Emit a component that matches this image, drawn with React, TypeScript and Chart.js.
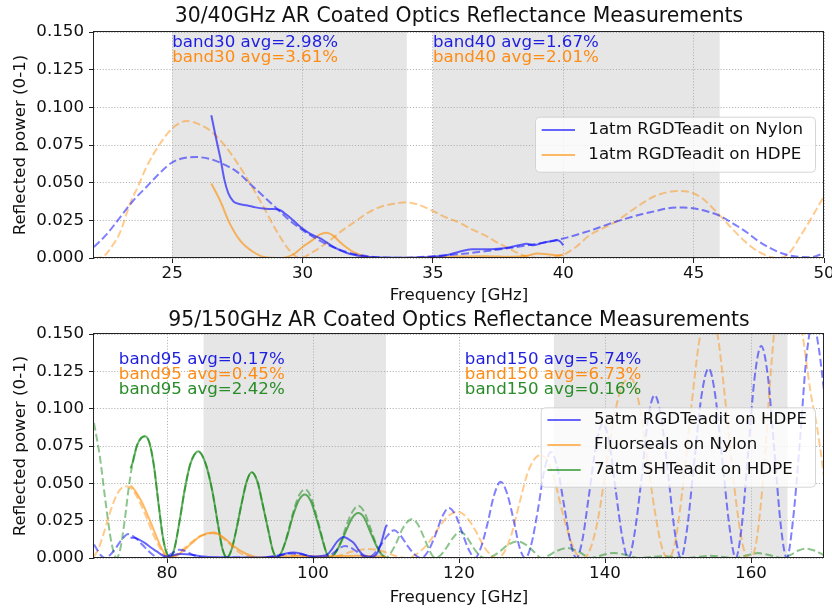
import React, { useEffect, useRef } from 'react';
import { Chart, registerables } from 'chart.js';

Chart.register(...registerables);

type P = [number, number][];

// ---------------- shared ----------------
const yTicks = [0, 0.025, 0.05, 0.075, 0.1, 0.125, 0.15];

// ---------------- top panel (30/40 GHz) ----------------
const topTitle = '30/40GHz AR Coated Optics Reflectance Measurements';
const topXTicks = [25, 30, 35, 40, 45, 50];
const topBands: [number, number][] = [[25, 34], [35, 46]];
const topLegendLabels = ['1atm RGDTeadit on Nylon', '1atm RGDTeadit on HDPE'];
const topNotes = ['band30 avg=2.98%', 'band30 avg=3.61%', 'band40 avg=1.67%', 'band40 avg=2.01%'];
const topNotePos: P = [[25, 0.14], [25, 0.13], [35, 0.14], [35, 0.13]];

const topNylonMeas: P = [
  [26.5, 0.0947], [26.7, 0.078], [26.85, 0.066], [27.0, 0.052], [27.15, 0.043], [27.35, 0.0375],
  [27.6, 0.0357], [27.85, 0.035], [28.2, 0.0336], [28.5, 0.0328], [28.8, 0.0325], [29.1, 0.032],
  [29.4, 0.0285], [29.7, 0.024], [30.0, 0.0195], [30.3, 0.016], [30.7, 0.0128], [31.2, 0.0072],
  [31.7, 0.0033], [32.3, 0.0011], [33.0, 0.0003], [34.0, 0.0002], [35.0, 0.0008], [35.6, 0.0022],
  [36.2, 0.005], [36.5, 0.0058], [36.9, 0.0058], [37.5, 0.0062], [37.95, 0.0072], [38.3, 0.0085],
  [38.6, 0.0095], [38.85, 0.0084], [39.1, 0.0095], [39.35, 0.0106], [39.6, 0.0112], [39.75, 0.0117],
  [39.88, 0.011], [40.0, 0.0084],
];
const topNylonModel: P = [
  [22, 0.0073], [22.5, 0.016], [23, 0.027], [23.5, 0.038], [24, 0.047], [24.5, 0.056], [25, 0.0635],
  [25.5, 0.0665], [25.9, 0.067], [26.5, 0.0655], [27, 0.062], [27.5, 0.057], [28, 0.049], [28.5, 0.041],
  [29, 0.033], [29.5, 0.025], [30, 0.0185], [30.5, 0.013], [31, 0.0085], [31.5, 0.005], [32, 0.0025],
  [32.5, 0.0012], [33, 0.0004], [34, 0.0002], [35, 0.0012], [36, 0.0025], [37, 0.0045], [38, 0.0068],
  [39, 0.0095], [40, 0.013], [41, 0.018], [42, 0.024], [43, 0.029], [43.5, 0.031], [44, 0.033],
  [44.6, 0.0335], [45, 0.033], [45.5, 0.031], [46, 0.028], [46.5, 0.023], [47, 0.0175], [47.5, 0.011],
  [48, 0.006], [48.5, 0.0025], [49, 0.0008], [49.5, 0.0005], [50, 0.0033],
];
const topHdpeMeas: P = [
  [26.5, 0.0494], [26.83, 0.0383], [27.21, 0.0228], [27.6, 0.0117], [28.11, 0.004], [28.62, 0.0003],
  [29.0, 0.0], [29.39, 0.0006], [29.7, 0.003], [30.0, 0.0073], [30.35, 0.0115], [30.67, 0.0157],
  [30.92, 0.0168], [31.2, 0.0145], [31.43, 0.0106], [31.7, 0.0068], [31.94, 0.004], [32.5, 0.0005],
  [33.0, 0.0], [35.0, 0.0005], [36.0, 0.001], [37.0, 0.0012], [38.0, 0.0008], [38.6, 0.0015],
  [39.0, 0.003], [39.4, 0.0025], [39.8, 0.0018], [40.0, 0.0022],
];
const topHdpeModel: P = [
  [22, 0.0], [22.3, 0.0005], [22.7, 0.008], [23, 0.017], [23.38, 0.036], [23.7, 0.048], [24, 0.06],
  [24.5, 0.075], [25, 0.086], [25.55, 0.091], [26, 0.089], [26.5, 0.084], [27, 0.075], [27.5, 0.063],
  [28, 0.049], [28.5, 0.034], [29, 0.018], [29.5, 0.005], [29.9, 0.0], [30.4, 0.004], [31, 0.011],
  [31.5, 0.018], [32, 0.024], [32.5, 0.03], [33, 0.034], [33.5, 0.036], [34, 0.037], [34.5, 0.035],
  [35, 0.0312], [35.5, 0.027], [36, 0.0235], [36.5, 0.019], [37, 0.015], [37.5, 0.01], [38, 0.0055],
  [38.5, 0.0015], [39, 0.0], [39.5, 0.0005], [40, 0.0022], [40.5, 0.0075], [41, 0.015], [41.5, 0.0195],
  [42, 0.024], [42.5, 0.03], [43, 0.036], [43.5, 0.041], [44, 0.0437], [44.35, 0.0445], [44.8, 0.044],
  [45.3, 0.04], [46, 0.0283], [46.5, 0.019], [47, 0.0105], [47.5, 0.004], [48, 0.0005], [48.3, 0.0],
  [48.7, 0.004], [49.07, 0.0139], [49.5, 0.026], [50, 0.041],
];

// ---------------- bottom panel (95/150 GHz) ----------------
const botTitle = '95/150GHz AR Coated Optics Reflectance Measurements';
const botXTicks = [80, 100, 120, 140, 160];
const botBands: [number, number][] = [[85, 110], [133, 165]];
const botLegendLabels = ['5atm RGDTeadit on HDPE', 'Fluorseals on Nylon', '7atm SHTeadit on HDPE'];
const botNotes = [
  'band95 avg=0.17%', 'band95 avg=0.45%', 'band95 avg=2.42%',
  'band150 avg=5.74%', 'band150 avg=6.73%', 'band150 avg=0.16%',
];
const botNotePos: P = [[73.4, 0.13], [73.4, 0.12], [73.4, 0.11], [120.8, 0.13], [120.8, 0.12], [120.8, 0.11]];

const botRgdMeas: P = [
  [75.0, 0.0135], [75.5, 0.0136], [76.3, 0.012], [77.0, 0.01], [77.8, 0.007], [78.6, 0.0044], [79.3, 0.002],
  [80.0, 0.001], [80.8, 0.0018], [81.8, 0.0027], [82.7, 0.0025], [83.6, 0.002], [85.0, 0.001], [87.0, 0.0005],
  [90.0, 0.0003], [93.0, 0.0004], [95.0, 0.001], [96.3, 0.003], [97.3, 0.0037], [98.3, 0.003], [99.3, 0.0015],
  [100.0, 0.001], [101.0, 0.0013], [101.9, 0.002], [102.6, 0.006], [103.3, 0.011], [104.2, 0.0141],
  [104.9, 0.0125], [105.6, 0.01], [106.3, 0.005], [106.9, 0.002], [107.5, 0.001], [108.1, 0.0005],
  [108.8, 0.0033], [109.4, 0.011], [110.0, 0.0212], [110.2, 0.022],
];
const botRgdModel: P = [
  [70, 0.009], [70.5, 0.005], [71.0, 0.0015], [71.5, 0.0], [72.2, 0.002], [72.9, 0.006], [73.6, 0.011],
  [74.7, 0.016], [75.8, 0.013], [76.7, 0.0085], [77.6, 0.004], [78.4, 0.001], [79.2, 0.0], [80.0, 0.0012],
  [80.8, 0.0035], [81.7, 0.0055], [82.6, 0.0045], [83.5, 0.0022], [84.5, 0.0005], [85.8, 0.0], [87.5, 0.0002],
  [89.3, 0.0004], [91, 0.0001], [92.5, 0.0], [94, 0.0008], [95.5, 0.002], [97, 0.003], [98.5, 0.0025],
  [99.8, 0.001], [101.2, 0.0], [102.3, 0.0015], [103.3, 0.0055], [104.4, 0.008], [105.5, 0.006],
  [106.5, 0.0025], [107.4, 0.0], [108.2, 0.002], [109.2, 0.008], [110.2, 0.015], [111.1, 0.0185],
  [112.0, 0.015], [112.9, 0.0085], [113.9, 0.0025], [114.8, 0.0], [115.7, 0.004], [116.7, 0.0145],
  [117.6, 0.0265], [118.6, 0.0335], [119.6, 0.028], [120.5, 0.016], [121.4, 0.005], [122.2, 0.0],
  [123.0, 0.007], [123.9, 0.023], [124.8, 0.042], [125.7, 0.051], [126.6, 0.043], [127.5, 0.025],
  [128.3, 0.007], [129.1, 0.0], [129.9, 0.009], [130.8, 0.032], [131.7, 0.059], [132.6, 0.071],
  [133.5, 0.06], [134.4, 0.035], [135.3, 0.01], [136.1, 0.0], [136.9, 0.012], [137.8, 0.042],
  [138.8, 0.076], [139.7, 0.09], [140.6, 0.077], [141.5, 0.044], [142.4, 0.013], [143.2, 0.0],
  [144.0, 0.015], [145.0, 0.053], [145.9, 0.093], [146.8, 0.109], [147.7, 0.094], [148.7, 0.054],
  [149.6, 0.016], [150.4, 0.0], [151.2, 0.018], [152.2, 0.063], [153.2, 0.108], [154.2, 0.127],
  [155.1, 0.109], [156.1, 0.064], [157.1, 0.019], [157.9, 0.0], [158.7, 0.02], [159.6, 0.07],
  [160.5, 0.121], [161.4, 0.142], [162.3, 0.122], [163.2, 0.072], [164.1, 0.021], [164.9, 0.0],
  [165.7, 0.023], [166.7, 0.078], [167.6, 0.135], [168.5, 0.158], [169.3, 0.14], [170, 0.112],
];
const botFluorMeas: P = [
  [75.0, 0.0485], [75.5, 0.046], [76.5, 0.038], [77.5, 0.027], [78.5, 0.015], [79.3, 0.006], [80.2, 0.0008],
  [81.0, 0.001], [82.0, 0.004], [83.3, 0.0095], [84.7, 0.015], [86.4, 0.0171], [87.8, 0.0135], [89.1, 0.008],
  [90.9, 0.0027], [92.5, 0.0005], [95.0, 0.0003], [98.0, 0.0015], [100.0, 0.001], [103.0, 0.0012],
  [106.0, 0.0015], [108.5, 0.0012], [110.0, 0.0008],
];
const botFluorModel: P = [
  [70, 0.001], [70.6, 0.006], [71.3, 0.016], [72.1, 0.029], [72.9, 0.04], [73.7, 0.0465], [74.5, 0.048],
  [75.4, 0.045], [76.3, 0.037], [77.2, 0.027], [78.1, 0.016], [79.0, 0.007], [79.6, 0.002], [80.2, 0.0],
  [81.0, 0.0015], [82.0, 0.005], [83.2, 0.01], [84.5, 0.0145], [85.4, 0.016], [86.2, 0.0165], [87.1, 0.0155],
  [88.0, 0.012], [89.0, 0.0075], [90.0, 0.0035], [91.2, 0.001], [92.5, 0.0], [94.5, 0.0008], [97, 0.0018],
  [99, 0.0012], [101.5, 0.0001], [103.5, 0.0015], [105.5, 0.0045], [107.5, 0.006], [109.5, 0.0045],
  [111.2, 0.0015], [112.8, 0.0], [114.3, 0.003], [115.8, 0.01], [117.2, 0.02], [118.5, 0.028],
  [119.8, 0.031], [121.1, 0.027], [122.3, 0.018], [123.5, 0.007], [124.6, 0.001], [125.3, 0.0],
  [126.2, 0.004], [127.2, 0.016], [128.3, 0.037], [129.4, 0.057], [130.3, 0.066], [131.2, 0.069],
  [132.1, 0.065], [133.1, 0.052], [134.1, 0.032], [135.2, 0.013], [136.2, 0.002], [137.0, 0.0],
  [137.9, 0.005], [139.0, 0.025], [140.2, 0.062], [141.4, 0.098], [142.5, 0.117], [143.6, 0.12],
  [144.6, 0.105], [145.7, 0.07], [146.8, 0.032], [147.8, 0.007], [148.6, 0.0], [149.5, 0.008],
  [150.6, 0.045], [151.8, 0.1], [153.0, 0.148], [154.2, 0.168], [155.4, 0.15], [156.6, 0.1],
  [157.8, 0.044], [158.9, 0.008], [159.8, 0.0], [160.7, 0.01], [161.7, 0.055], [162.8, 0.13],
  [163.9, 0.185], [165.0, 0.2], [166.1, 0.185], [167.2, 0.145], [168.2, 0.11], [169.1, 0.086], [170, 0.055],
];
const botShMeas: P = [
  [75.0, 0.06], [75.3, 0.064], [75.9, 0.0755], [76.5, 0.0805], [77.0, 0.0815], [77.6, 0.077], [78.2, 0.062],
  [78.8, 0.038], [79.4, 0.015], [79.9, 0.004], [80.4, 0.0005], [81.0, 0.006], [81.7, 0.024], [82.4, 0.045],
  [83.2, 0.063], [84.3, 0.0715], [85.3, 0.063], [86.2, 0.045], [87.0, 0.022], [87.6, 0.006], [88.2, 0.0005],
  [88.8, 0.005], [89.5, 0.019], [90.2, 0.036], [90.9, 0.051], [91.6, 0.0575], [92.4, 0.051], [93.1, 0.036],
  [93.9, 0.018], [94.5, 0.005], [95.1, 0.0005], [95.7, 0.004], [96.5, 0.015], [97.3, 0.029], [98.1, 0.039],
  [98.9, 0.0425], [99.7, 0.038], [100.5, 0.026], [101.3, 0.012], [101.8, 0.004], [102.3, 0.0005],
  [103.0, 0.003], [103.9, 0.011], [104.6, 0.019], [105.4, 0.027], [106.2, 0.0301], [107.0, 0.027],
  [107.8, 0.018], [108.6, 0.009], [109.3, 0.003], [109.9, 0.0005],
];
const botShModel: P = [
  [70.0, 0.0905], [70.8, 0.068], [71.6, 0.037], [72.4, 0.01], [73.1, 0.0], [73.6, 0.006], [74.2, 0.025],
  [74.7, 0.045], [75.3, 0.064], [75.9, 0.0755], [76.5, 0.0805], [77.0, 0.0815], [77.6, 0.077], [78.2, 0.062],
  [78.8, 0.038], [79.4, 0.015], [79.9, 0.004], [80.4, 0.0], [81.0, 0.006], [81.7, 0.024], [82.4, 0.045],
  [83.2, 0.063], [84.3, 0.071], [85.3, 0.063], [86.2, 0.045], [87.0, 0.022], [87.6, 0.006], [88.2, 0.0],
  [88.8, 0.005], [89.5, 0.019], [90.2, 0.036], [90.9, 0.051], [91.6, 0.0575], [92.4, 0.051], [93.1, 0.036],
  [93.9, 0.018], [94.5, 0.005], [95.1, 0.0], [95.7, 0.004], [96.5, 0.016], [97.3, 0.031], [98.1, 0.042],
  [98.9, 0.046], [99.7, 0.041], [100.5, 0.028], [101.3, 0.013], [101.8, 0.004], [102.3, 0.0], [103.0, 0.003],
  [103.9, 0.012], [104.6, 0.022], [105.4, 0.031], [106.2, 0.035], [107.0, 0.031], [107.8, 0.021],
  [108.6, 0.01], [109.3, 0.003], [109.9, 0.0], [110.6, 0.003], [111.4, 0.01], [112.2, 0.019], [112.9, 0.024],
  [113.5, 0.026], [114.3, 0.023], [115.0, 0.016], [115.7, 0.008], [116.3, 0.002], [116.8, 0.0],
  [117.5, 0.002], [118.3, 0.007], [119.1, 0.013], [120.2, 0.0178], [121.2, 0.013], [122.1, 0.006],
  [122.9, 0.0015], [123.6, 0.0], [124.5, 0.001], [125.5, 0.004], [126.6, 0.0085], [128.0, 0.0111],
  [129.3, 0.0085], [130.3, 0.004], [131.3, 0.0], [132.2, 0.0015], [133.3, 0.0045], [134.8, 0.0067],
  [136.3, 0.0045], [137.3, 0.0015], [138.0, 0.0], [139.0, 0.001], [140.0, 0.0025], [141.2, 0.0033],
  [142.5, 0.0025], [143.6, 0.001], [144.5, 0.0], [146.2, 0.0007], [147.8, 0.0012], [149.5, 0.0007],
  [151.2, 0.0], [152.8, 0.0008], [154.4, 0.0015], [156.0, 0.0008], [157.7, 0.0], [159.2, 0.0015],
  [161.0, 0.0033], [162.7, 0.0017], [164.3, 0.0], [165.4, 0.002], [166.5, 0.005], [167.6, 0.0063],
  [168.8, 0.0048], [170.0, 0.0018],
];

// ---------------- styles ----------------
const FONT = '"DejaVu Sans", "Liberation Sans", sans-serif';
const FS = 16.67;
const C = {
  blueSolid: 'rgba(0,0,255,0.6)',
  blueDash: 'rgba(0,0,255,0.5)',
  orangeSolid: 'rgba(255,140,0,0.6)',
  orangeDash: 'rgba(255,140,0,0.45)',
  greenSolid: 'rgba(0,128,0,0.6)',
  greenDash: 'rgba(0,128,0,0.45)',
  blueText: 'rgb(30,30,225)',
  orangeText: 'rgb(255,140,20)',
  greenText: 'rgb(40,140,40)',
};

const line = (pts: P, color: string, dashed: boolean) => ({
  data: pts.map(([x, y]) => ({ x, y })),
  borderColor: color,
  backgroundColor: color,
  borderWidth: 2,
  borderDash: dashed ? [7.8, 3.4] : [],
  pointRadius: 0,
  fill: false,
  cubicInterpolationMode: 'monotone',
});

interface PanelCfg {
  title: string;
  titleGap: number;
  xMin: number;
  xMax: number;
  xTicks: number[];
  bands: [number, number][];
  notes: { text: string; pos: [number, number]; color: string }[];
  legend: { box: [number, number, number, number]; lineX: [number, number]; textX: number; rows: { label: string; color: string; y: number }[] };
  datasets: any[];
  padTop: number;
  xHeight: number;
  xTitlePad: number;
}

function roundRect(ctx: CanvasRenderingContext2D, x: number, y: number, w: number, h: number, r: number) {
  ctx.beginPath();
  ctx.moveTo(x + r, y);
  ctx.arcTo(x + w, y, x + w, y + h, r);
  ctx.arcTo(x + w, y + h, x, y + h, r);
  ctx.arcTo(x, y + h, x, y, r);
  ctx.arcTo(x, y, x + w, y, r);
  ctx.closePath();
}

function makeDeco(cfg: PanelCfg) {
  return {
    id: 'deco',
    beforeDraw(chart: any) {
      const { ctx, chartArea: a, scales } = chart;
      const xs = scales.x;
      ctx.save();
      ctx.fillStyle = 'rgba(128,128,128,0.2)';
      for (const [lo, hi] of cfg.bands) {
        const x0 = xs.getPixelForValue(lo);
        const x1 = xs.getPixelForValue(hi);
        ctx.fillRect(x0, a.top, x1 - x0, a.bottom - a.top);
      }
      ctx.restore();
    },
    afterDraw(chart: any) {
      const { ctx, chartArea: a, scales } = chart;
      const xs = scales.x;
      const ys = scales.y;
      ctx.save();
      // annotations
      ctx.font = `${FS}px ${FONT}`;
      ctx.textAlign = 'left';
      ctx.textBaseline = 'alphabetic';
      for (const n of cfg.notes) {
        ctx.fillStyle = n.color;
        ctx.fillText(n.text, xs.getPixelForValue(n.pos[0]), ys.getPixelForValue(n.pos[1]));
      }
      // legend
      const [bl, bt, br, bb] = cfg.legend.box;
      roundRect(ctx, bl + 0.5, bt + 0.5, br - bl, bb - bt, 4);
      ctx.fillStyle = 'rgba(255,255,255,0.8)';
      ctx.fill();
      ctx.strokeStyle = 'rgba(204,204,204,0.8)';
      ctx.lineWidth = 1;
      ctx.stroke();
      for (const r of cfg.legend.rows) {
        ctx.beginPath();
        ctx.strokeStyle = r.color;
        ctx.lineWidth = 2;
        ctx.moveTo(cfg.legend.lineX[0], r.y);
        ctx.lineTo(cfg.legend.lineX[1], r.y);
        ctx.stroke();
        ctx.fillStyle = '#111';
        ctx.textBaseline = 'middle';
        ctx.fillText(r.label, cfg.legend.textX, r.y);
      }
      // spines
      ctx.strokeStyle = '#222';
      ctx.lineWidth = 1;
      ctx.strokeRect(a.left - 0.5, a.top - 0.5, a.right - a.left, a.bottom - a.top);
      // title
      ctx.fillStyle = '#111';
      ctx.font = `20.4px ${FONT}`;
      ctx.textAlign = 'center';
      ctx.textBaseline = 'alphabetic';
      ctx.fillText(cfg.title, (a.left + a.right) / 2, a.top - cfg.titleGap);
      ctx.restore();
    },
  };
}

function buildConfig(cfg: PanelCfg): any {
  const gridCommon = {
    color: '#b0b0b0',
    lineWidth: 1,
    drawTicks: true,
    tickLength: 5,
    tickColor: '#222',
    tickWidth: 1,
    tickBorderDash: [],
  };
  return {
    type: 'line',
    data: { datasets: cfg.datasets },
    plugins: [makeDeco(cfg)],
    options: {
      animation: false,
      responsive: false,
      events: [],
      parsing: false,
      layout: { padding: { top: cfg.padTop, right: 8, left: 0, bottom: 0 } },
      plugins: { legend: { display: false }, tooltip: { enabled: false }, title: { display: false } },
      scales: {
        x: {
          type: 'linear',
          min: cfg.xMin,
          max: cfg.xMax,
          afterBuildTicks: (s: any) => {
            s.ticks = cfg.xTicks.map((v) => ({ value: v }));
          },
          afterFit: (s: any) => {
            s.height = cfg.xHeight;
            s.paddingLeft = 0;
            s.paddingRight = 0;
          },
          ticks: {
            autoSkip: false,
            maxRotation: 0,
            padding: 1,
            color: '#111',
            font: { family: FONT, size: FS },
            callback: (v: any) => String(v),
          },
          grid: gridCommon,
          border: { display: false, dash: [1.1, 1.8] },
          title: {
            display: true,
            text: 'Frequency [GHz]',
            color: '#111',
            font: { family: FONT, size: FS },
            padding: { top: 0, bottom: cfg.xTitlePad },
          },
        },
        y: {
          type: 'linear',
          min: 0,
          max: 0.15,
          afterBuildTicks: (s: any) => {
            s.ticks = yTicks.map((v) => ({ value: v }));
          },
          afterFit: (s: any) => {
            s.width = 94;
            s.paddingTop = 0;
            s.paddingBottom = 0;
          },
          ticks: {
            padding: 5,
            color: '#111',
            font: { family: FONT, size: FS },
            callback: (v: any) => Number(v).toFixed(3),
          },
          grid: gridCommon,
          border: { display: false, dash: [1.1, 1.8] },
          title: {
            display: true,
            text: 'Reflected power (0-1)',
            color: '#111',
            font: { family: FONT, size: FS },
            padding: { top: 10.5, bottom: 0 },
          },
        },
      },
    },
  };
}

const topCfg: PanelCfg = {
  title: topTitle,
  titleGap: 10,
  xMin: 22,
  xMax: 50,
  xTicks: topXTicks,
  bands: topBands,
  notes: topNotes.map((t, i) => ({ text: t, pos: topNotePos[i] as [number, number], color: i % 2 === 0 ? C.blueText : C.orangeText })),
  legend: {
    box: [535, 116.7, 815, 171.7],
    lineX: [541.7, 575],
    textX: 588.3,
    rows: [
      { label: topLegendLabels[0], color: C.blueSolid, y: 130 },
      { label: topLegendLabels[1], color: C.orangeSolid, y: 155 },
    ],
  },
  datasets: [
    line(topNylonMeas, C.blueSolid, false),
    line(topNylonModel, C.blueDash, true),
    line(topHdpeMeas, C.orangeSolid, false),
    line(topHdpeModel, C.orangeDash, true),
  ],
  padTop: 32,
  xHeight: 48,
  xTitlePad: 0,
};

const botColors = [C.blueText, C.orangeText, C.greenText];
const botCfg: PanelCfg = {
  title: botTitle,
  titleGap: 8.5,
  xMin: 70,
  xMax: 170,
  xTicks: botXTicks,
  bands: botBands,
  notes: botNotes.map((t, i) => ({ text: t, pos: botNotePos[i] as [number, number], color: botColors[i % 3] })),
  legend: {
    box: [540.7, 101.3, 815, 180.7],
    lineX: [547.4, 580.7],
    textX: 594,
    rows: [
      { label: botLegendLabels[0], color: C.blueSolid, y: 114 },
      { label: botLegendLabels[1], color: C.orangeSolid, y: 139 },
      { label: botLegendLabels[2], color: C.greenSolid, y: 164 },
    ],
  },
  datasets: [
    line(botRgdMeas, C.blueSolid, false),
    line(botRgdModel, C.blueDash, true),
    line(botFluorMeas, C.orangeSolid, false),
    line(botFluorModel, C.orangeDash, true),
    line(botShMeas, C.greenSolid, false),
    line(botShModel, C.greenDash, true),
  ],
  padTop: 28,
  xHeight: 54,
  xTitlePad: 4.5,
};

function Panel({ cfg, top }: { cfg: PanelCfg; top: number }) {
  const ref = useRef<HTMLCanvasElement | null>(null);
  useEffect(() => {
    if (!ref.current) return;
    const chart = new Chart(ref.current, buildConfig(cfg));
    return () => chart.destroy();
  }, [cfg]);
  return (
    <canvas
      ref={ref}
      width={832}
      height={306}
      style={{ position: 'absolute', left: 0, top, width: 832, height: 306, display: 'block' }}
    />
  );
}

export default function App() {
  return (
    <div style={{ position: 'absolute', left: 0, top: 0, width: 832, height: 612, background: '#fff' }}>
      <Panel cfg={topCfg} top={0} />
      <Panel cfg={botCfg} top={306} />
    </div>
  );
}
